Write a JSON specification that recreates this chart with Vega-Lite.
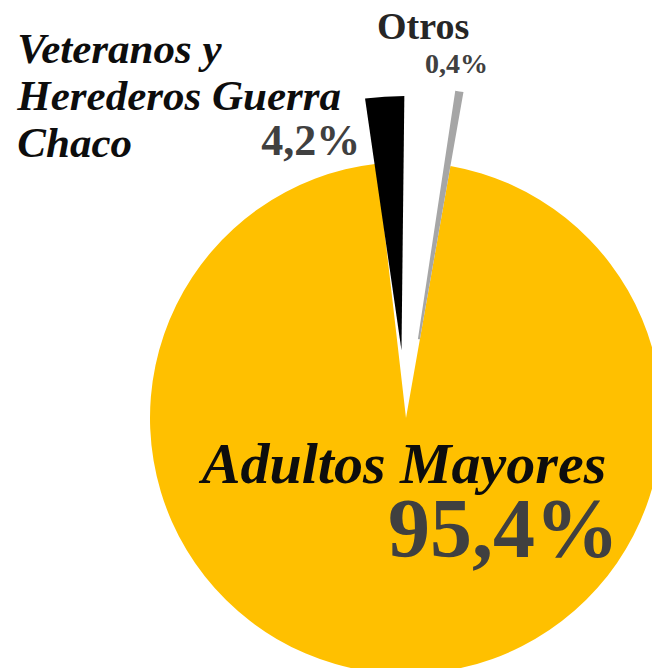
{
  "$schema": "https://vega.github.io/schema/vega-lite/v6.json",
  "width": 492,
  "height": 500,
  "autosize": "none",
  "padding": {"left": 160, "top": 168, "right": 0, "bottom": 0},
  "background": "white",
  "config": {"view": {"stroke": null}},
  "data": {
    "values": [
      {"categoria": "Adultos Mayores", "nombre": "Adultos Mayores", "valor": 95.4, "etiqueta": "95,4%"},
      {"categoria": "Veteranos", "nombre": "Veteranos y\nHerederos Guerra\nChaco", "valor": 4.2, "etiqueta": "4,2%"},
      {"categoria": "Otros", "nombre": "Otros", "valor": 0.4, "etiqueta": "0,4%"}
    ]
  },
  "transform": [
    {"stack": "valor", "groupby": [], "sort": [{"field": "valor", "order": "descending"}], "as": ["t0", "t1"]}
  ],
  "encoding": {
    "theta": {"field": "t0", "type": "quantitative", "scale": {"domain": [0, 100], "range": [0.17453, 6.45772]}},
    "color": {"field": "categoria", "type": "nominal", "legend": null,
      "scale": {"domain": ["Adultos Mayores", "Veteranos", "Otros"], "range": ["#FFC000", "#000000", "#A6A6A6"]}}
  },
  "layer": [
    {
      "transform": [{"filter": "datum.categoria == 'Adultos Mayores'"}],
      "mark": {"type": "arc", "radius": 256, "radius2": 0},
      "encoding": {"theta2": {"field": "t1"}}
    },
    {
      "transform": [{"filter": "datum.categoria == 'Veteranos'"}],
      "mark": {"type": "arc", "radius": 322, "radius2": 68, "padAngle": 0.1384, "thetaOffset": -0.0838, "theta2Offset": -0.0838},
      "encoding": {"theta2": {"field": "t1"}}
    },
    {
      "transform": [{"filter": "datum.categoria == 'Otros'"}],
      "mark": {"type": "arc", "radius": 331, "radius2": 80},
      "encoding": {"theta2": {"field": "t1"}}
    },
    {
      "transform": [{"filter": "datum.categoria == 'Adultos Mayores'"}],
      "mark": {"type": "text", "font": "Liberation Serif", "fontWeight": "bold", "fontStyle": "italic", "fontSize": 58, "align": "center", "baseline": "alphabetic", "dx": -2, "dy": 65},
      "encoding": {"radius": {"value": 0}, "text": {"field": "nombre"}, "color": {"value": "#0d0d0d"}}
    },
    {
      "transform": [{"filter": "datum.categoria == 'Adultos Mayores'"}],
      "mark": {"type": "text", "font": "Liberation Serif", "fontWeight": "bold", "fontSize": 84, "align": "right", "baseline": "alphabetic", "dx": 213, "dy": 139},
      "encoding": {"radius": {"value": 0}, "text": {"field": "etiqueta"}, "color": {"value": "#404040"}}
    },
    {
      "transform": [{"filter": "datum.categoria == 'Veteranos'"}],
      "mark": {"type": "text", "font": "Liberation Serif", "fontWeight": "bold", "fontStyle": "italic", "fontSize": 43, "lineHeight": 47, "lineBreak": "\n", "align": "left", "baseline": "alphabetic", "dx": -351, "dy": -27},
      "encoding": {"radius": {"value": 330}, "text": {"field": "nombre"}, "color": {"value": "#0d0d0d"}}
    },
    {
      "transform": [{"filter": "datum.categoria == 'Veteranos'"}],
      "mark": {"type": "text", "font": "Liberation Serif", "fontWeight": "bold", "fontSize": 44, "align": "right", "baseline": "alphabetic", "dx": -8, "dy": 65},
      "encoding": {"radius": {"value": 330}, "text": {"field": "etiqueta"}, "color": {"value": "#404040"}}
    },
    {
      "transform": [{"filter": "datum.categoria == 'Otros'"}],
      "mark": {"type": "text", "font": "Liberation Serif", "fontWeight": "bold", "fontSize": 38, "align": "left", "baseline": "alphabetic", "dx": -88, "dy": -44},
      "encoding": {"theta": {"field": "t1", "type": "quantitative"}, "radius": {"value": 340}, "text": {"field": "nombre"}, "color": {"value": "#262626"}}
    },
    {
      "transform": [{"filter": "datum.categoria == 'Otros'"}],
      "mark": {"type": "text", "font": "Liberation Serif", "fontWeight": "bold", "fontSize": 28, "align": "right", "baseline": "alphabetic", "dx": 23, "dy": -10},
      "encoding": {"theta": {"field": "t1", "type": "quantitative"}, "radius": {"value": 340}, "text": {"field": "etiqueta"}, "color": {"value": "#404040"}}
    }
  ]
}
